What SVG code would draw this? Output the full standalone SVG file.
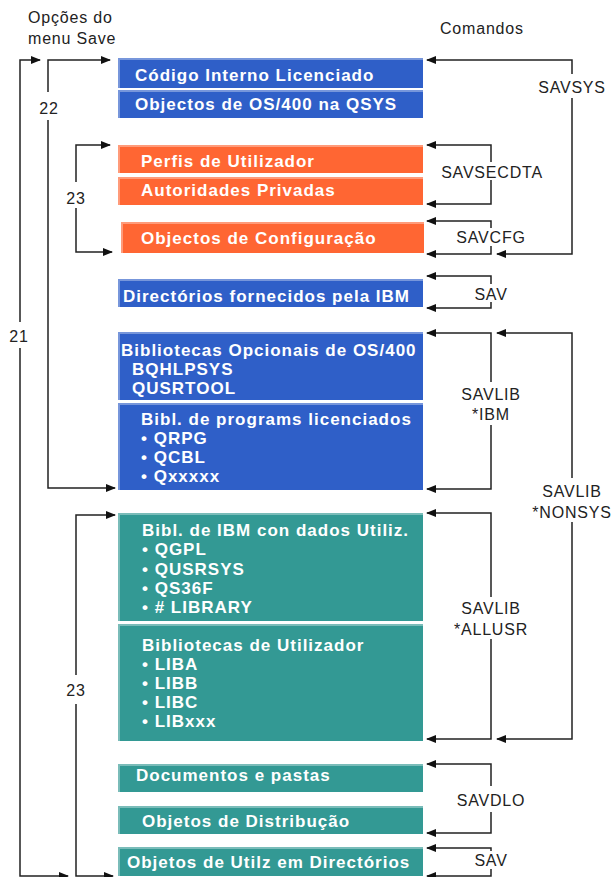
<svg xmlns="http://www.w3.org/2000/svg" width="614" height="877" viewBox="0 0 614 877">
<style>
.b{font-family:"Liberation Sans",Arial,sans-serif;font-weight:bold;font-size:17px;letter-spacing:1px;fill:#fff}
.l{font-family:"Liberation Sans",Arial,sans-serif;font-size:16px;letter-spacing:0.8px;fill:#222}
.blue{fill:#2f5fc8}
.orng{fill:#ff6633}
.teal{fill:#339994}
.hl{fill:none;stroke:#fff;stroke-opacity:0.35;stroke-width:2}
.c{fill:none;stroke:#222;stroke-width:1.5}
</style>
<defs>
<marker id="a" markerWidth="10" markerHeight="8" refX="9" refY="4" orient="auto" markerUnits="userSpaceOnUse">
<path d="M0,0 L10,4 L0,8 Z" fill="#111"/>
</marker>
</defs>
<text class="l" x="28" y="23">Opções do</text>
<text class="l" x="28" y="44">menu Save</text>
<text class="l" x="440" y="34">Comandos</text>

<g id="n1"><rect class="blue" x="118" y="58" width="305" height="30"/><path class="hl" d="M119,88 V59 H423"/><text class="b" x="135" y="81">Código Interno Licenciado</text></g>
<g id="n2"><rect class="blue" x="118" y="90" width="305" height="28"/><path class="hl" d="M119,118 V91 H423"/><text class="b" x="135" y="110">Objectos de OS/400 na QSYS</text></g>
<g id="n3"><rect class="orng" x="118" y="145" width="305" height="28"/><path class="hl" d="M119,173 V146 H423"/><text class="b" x="141" y="167">Perfis de Utilizador</text></g>
<g id="n4"><rect class="orng" x="118" y="177" width="305" height="28"/><path class="hl" d="M119,205 V178 H423"/><text class="b" x="141" y="196">Autoridades Privadas</text></g>
<g id="n5"><rect class="orng" x="121" y="222" width="303" height="31"/><path class="hl" d="M122,253 V223 H424"/><text class="b" x="141" y="244">Objectos de Configuração</text></g>
<g id="n6"><rect class="blue" x="118" y="279" width="305" height="28"/><path class="hl" d="M119,307 V280 H423"/><text class="b" x="123" y="302">Directórios fornecidos pela IBM</text></g>
<g id="n7"><rect class="blue" x="118" y="332" width="305" height="68"/><path class="hl" d="M119,400 V333 H423"/><text class="b" x="121" y="356">Bibliotecas Opcionais de OS/400</text><text class="b" x="132" y="375">BQHLPSYS</text><text class="b" x="132" y="394">QUSRTOOL</text></g>
<g id="n8"><rect class="blue" x="118" y="403" width="305" height="87"/><path class="hl" d="M119,490 V404 H423"/><text class="b" x="141" y="425">Bibl. de programs licenciados</text><text class="b" x="141" y="444">• QRPG</text><text class="b" x="141" y="463">• QCBL</text><text class="b" x="141" y="482">• Qxxxxx</text></g>
<g id="n9"><rect class="teal" x="118" y="513" width="305" height="108"/><path class="hl" d="M119,621 V514 H423"/><text class="b" x="142" y="536">Bibl. de IBM con dados Utiliz.</text><text class="b" x="142" y="555">• QGPL</text><text class="b" x="142" y="575">• QUSRSYS</text><text class="b" x="142" y="594">• QS36F</text><text class="b" x="142" y="613">• # LIBRARY</text></g>
<g id="n10"><rect class="teal" x="118" y="624" width="305" height="117"/><path class="hl" d="M119,741 V625 H423"/><text class="b" x="142" y="651">Bibliotecas de Utilizador</text><text class="b" x="142" y="670">• LIBA</text><text class="b" x="142" y="689">• LIBB</text><text class="b" x="142" y="708">• LIBC</text><text class="b" x="142" y="727">• LIBxxx</text></g>
<g id="n11"><rect class="teal" x="118" y="764" width="305" height="28"/><path class="hl" d="M119,792 V765 H423"/><text class="b" x="136" y="781">Documentos e pastas</text></g>
<g id="n12"><rect class="teal" x="118" y="806" width="305" height="28"/><path class="hl" d="M119,834 V807 H423"/><text class="b" x="142" y="827">Objetos de Distribução</text></g>
<g id="n13"><rect class="teal" x="118" y="847" width="305" height="29"/><path class="hl" d="M119,876 V848 H423"/><text class="b" x="127" y="868">Objetos de Utilz em Directórios</text></g>

<g id="connectors">
<path class="c" d="M20,322 V60 H40" marker-end="url(#a)"/>
<path class="c" d="M20,348 V876 H68" marker-end="url(#a)"/>
<text class="l" x="19" y="342" text-anchor="middle">21</text>
<path class="c" d="M48,92 V60 H110" marker-end="url(#a)"/>
<path class="c" d="M48,120 V488 H115" marker-end="url(#a)"/>
<text class="l" x="49" y="114" text-anchor="middle">22</text>
<path class="c" d="M76,182 V145 H110" marker-end="url(#a)"/>
<path class="c" d="M76,208 V252 H112" marker-end="url(#a)"/>
<text class="l" x="76" y="204" text-anchor="middle">23</text>
<path class="c" d="M76,675 V515 H115" marker-end="url(#a)"/>
<path class="c" d="M76,704 V876 H113" marker-end="url(#a)"/>
<text class="l" x="76" y="696" text-anchor="middle">23</text>

<path class="c" d="M572,74 V60 H427" marker-end="url(#a)"/>
<path class="c" d="M572,98 V254 H497" marker-end="url(#a)"/>
<text class="l" x="572" y="93" text-anchor="middle">SAVSYS</text>
<path class="c" d="M491,162 V145 H427" marker-end="url(#a)"/>
<path class="c" d="M491,180 V204 H427" marker-end="url(#a)"/>
<text class="l" x="492" y="178" text-anchor="middle">SAVSECDTA</text>
<path class="c" d="M491,228 V221 H427" marker-end="url(#a)"/>
<path class="c" d="M491,246 V254 H427" marker-end="url(#a)"/>
<text class="l" x="491" y="243" text-anchor="middle">SAVCFG</text>
<path class="c" d="M491,284 V276 H427" marker-end="url(#a)"/>
<path class="c" d="M491,302 V308 H427" marker-end="url(#a)"/>
<text class="l" x="491" y="300" text-anchor="middle">SAV</text>
<path class="c" d="M491,382 V333 H427" marker-end="url(#a)"/>
<path class="c" d="M491,425 V489 H427" marker-end="url(#a)"/>
<text class="l" x="491" y="400" text-anchor="middle">SAVLIB</text>
<text class="l" x="491" y="420" text-anchor="middle">*IBM</text>
<path class="c" d="M572,478 V333 H497" marker-end="url(#a)"/>
<path class="c" d="M572,522 V739 H497" marker-end="url(#a)"/>
<text class="l" x="572" y="497" text-anchor="middle">SAVLIB</text>
<text class="l" x="572" y="518" text-anchor="middle">*NONSYS</text>
<path class="c" d="M491,597 V513 H427" marker-end="url(#a)"/>
<path class="c" d="M491,639 V739 H427" marker-end="url(#a)"/>
<text class="l" x="491" y="614" text-anchor="middle">SAVLIB</text>
<text class="l" x="491" y="635" text-anchor="middle">*ALLUSR</text>
<path class="c" d="M491,786 V764 H427" marker-end="url(#a)"/>
<path class="c" d="M491,812 V833 H427" marker-end="url(#a)"/>
<text class="l" x="491" y="806" text-anchor="middle">SAVDLO</text>
<path class="c" d="M491,851 V848 H427" marker-end="url(#a)"/>
<path class="c" d="M491,869 V876 H427" marker-end="url(#a)"/>
<text class="l" x="491" y="866" text-anchor="middle">SAV</text>
</g>
</svg>
